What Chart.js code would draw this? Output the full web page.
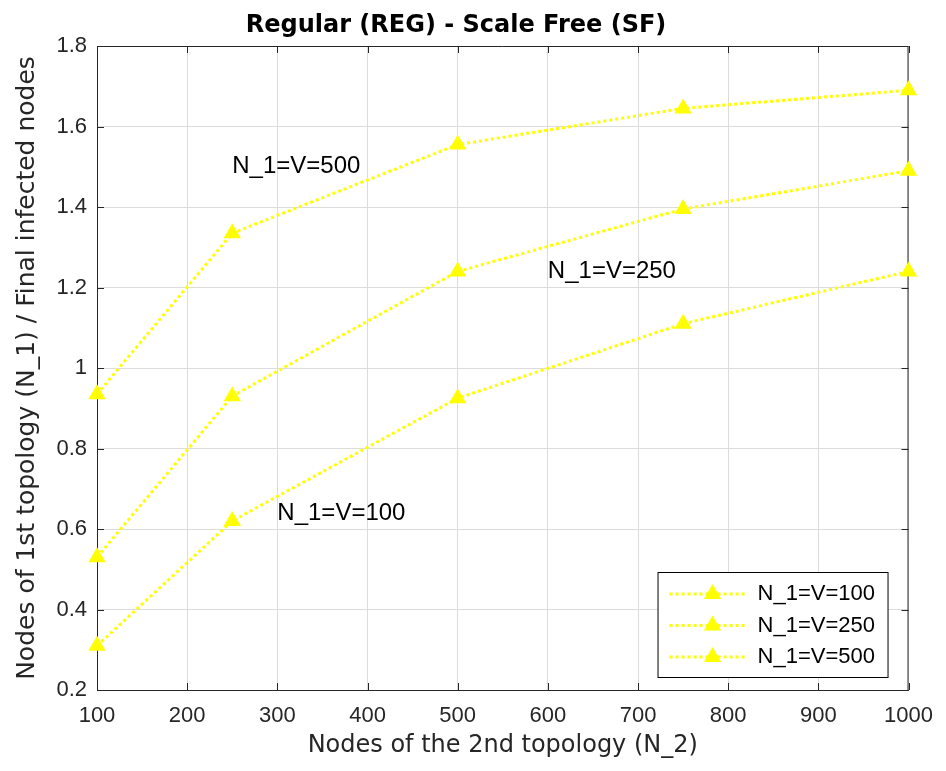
<!DOCTYPE html>
<html>
<head>
<meta charset="utf-8">
<script src="https://cdn.jsdelivr.net/npm/chart.js@4/dist/chart.umd.min.js"></script>
<style>
  html, body { margin: 0; padding: 0; background: #fff; }
</style>
</head>
<body>
<canvas id="infection-chart" width="946" height="771"></canvas>
<script>
// nodes of the second topology (x) and the three runs for N_1 = V
const nodesN2 = [100, 250, 500, 750, 1000];
const seriesLabels = ['N_1=V=100', 'N_1=V=250', 'N_1=V=500'];
const ratioV100 = [0.31, 0.62, 0.925, 1.11, 1.24];
const ratioV250 = [0.53, 0.93, 1.24, 1.395, 1.49];
const ratioV500 = [0.935, 1.335, 1.555, 1.645, 1.69];

const xTicks = [100, 200, 300, 400, 500, 600, 700, 800, 900, 1000];
const yTicks = [0.2, 0.4, 0.6, 0.8, 1, 1.2, 1.4, 1.6, 1.8];

// text labels placed inside the axes, in data units
const noteTexts = ['N_1=V=500', 'N_1=V=250', 'N_1=V=100'];
const noteX = [250, 600, 300];
const noteY = [1.5, 1.24, 0.64];

const AXIS_COLOR = '#262626';
const LINE_COLOR = '#ffff00';
const TICK_FONT = { family: '"Liberation Sans", Arial, sans-serif', size: 22 };
const LABEL_FAMILY = '"DejaVu Sans", sans-serif';

function series(label, values) {
  return {
    label: label,
    data: nodesN2.map((x, i) => ({ x: x, y: values[i] })),
    borderColor: LINE_COLOR,
    backgroundColor: LINE_COLOR,
    borderWidth: 3,
    borderDash: [3, 3],
    pointStyle: 'triangle',
    pointRadius: 7,
    pointBorderWidth: 3,
    pointBorderColor: LINE_COLOR,
    pointBackgroundColor: LINE_COLOR,
    tension: 0,
    clip: false
  };
}

const whiteBackground = {
  id: 'whiteBackground',
  beforeDraw(chart) {
    const ctx = chart.ctx;
    ctx.save();
    ctx.fillStyle = '#fff';
    ctx.fillRect(0, 0, chart.width, chart.height);
    ctx.restore();
  }
};

// closed box with inward tick marks on every side
const axesBox = {
  id: 'axesBox',
  beforeDatasetsDraw(chart) {
    const { ctx, chartArea: a, scales } = chart;
    const len = 7;
    ctx.save();
    ctx.strokeStyle = AXIS_COLOR;
    ctx.lineWidth = 1;
    ctx.beginPath();
    ctx.moveTo(a.left + 0.5, a.top + 0.5);
    ctx.lineTo(a.right - 0.5, a.top + 0.5);
    ctx.lineTo(a.right - 0.5, a.bottom);
    ctx.stroke();
    ctx.beginPath();
    scales.x.ticks.forEach(t => {
      const px = Math.round(scales.x.getPixelForValue(t.value)) + 0.5;
      ctx.moveTo(px, a.bottom);
      ctx.lineTo(px, a.bottom - len);
      ctx.moveTo(px, a.top);
      ctx.lineTo(px, a.top + len);
    });
    scales.y.ticks.forEach(t => {
      const py = Math.round(scales.y.getPixelForValue(t.value)) + 0.5;
      ctx.moveTo(a.left, py);
      ctx.lineTo(a.left + len, py);
      ctx.moveTo(a.right, py);
      ctx.lineTo(a.right - len, py);
    });
    ctx.stroke();
    ctx.restore();
  }
};

const seriesNotes = {
  id: 'seriesNotes',
  afterDatasetsDraw(chart) {
    const { ctx, scales } = chart;
    ctx.save();
    ctx.fillStyle = '#000';
    ctx.font = '24px "Liberation Sans", Arial, sans-serif';
    ctx.textAlign = 'left';
    ctx.textBaseline = 'middle';
    noteTexts.forEach((txt, i) => {
      ctx.fillText(txt, scales.x.getPixelForValue(noteX[i]), scales.y.getPixelForValue(noteY[i]));
    });
    ctx.restore();
  }
};

// legend box in the lower right corner of the axes
const boxLegend = {
  id: 'boxLegend',
  afterDraw(chart) {
    const { ctx, chartArea: a } = chart;
    const w = 230, h = 105;
    const left = a.right - 21 - w;
    const top = a.bottom - 13 - h;
    ctx.save();
    ctx.fillStyle = '#fff';
    ctx.fillRect(left, top, w, h);
    ctx.strokeStyle = '#000';
    ctx.lineWidth = 1;
    ctx.strokeRect(left + 0.5, top + 0.5, w, h);
    ctx.font = '22px "Liberation Sans", Arial, sans-serif';
    ctx.textBaseline = 'middle';
    chart.data.datasets.forEach((ds, i) => {
      const y = top + 22 + i * 31.5;
      ctx.save();
      ctx.strokeStyle = ds.borderColor;
      ctx.lineWidth = ds.borderWidth;
      ctx.setLineDash(ds.borderDash);
      ctx.beginPath();
      ctx.moveTo(left + 12, y);
      ctx.lineTo(left + 87, y);
      ctx.stroke();
      ctx.restore();
      ctx.save();
      ctx.fillStyle = ds.pointBackgroundColor;
      ctx.strokeStyle = ds.pointBorderColor;
      ctx.lineWidth = ds.pointBorderWidth;
      Chart.helpers.drawPoint(ctx, { pointStyle: 'triangle', radius: ds.pointRadius, borderWidth: ds.pointBorderWidth, rotation: 0 }, left + 55, y);
      ctx.restore();
      ctx.fillStyle = '#000';
      ctx.fillText(ds.label, left + 100, y);
    });
    ctx.restore();
  }
};

new Chart(document.getElementById('infection-chart'), {
  type: 'line',
  data: {
    datasets: [
      series(seriesLabels[0], ratioV100),
      series(seriesLabels[1], ratioV250),
      series(seriesLabels[2], ratioV500)
    ]
  },
  options: {
    responsive: false,
    animation: false,
    layout: { padding: { left: 0, top: 0, right: 34, bottom: 0 } },
    plugins: {
      legend: { display: false },
      tooltip: { enabled: false },
      title: {
        display: true,
        text: 'Regular (REG) - Scale Free (SF)',
        color: '#000',
        font: { family: LABEL_FAMILY, size: 24, weight: 'bold', lineHeight: 1.2 },
        padding: { top: 11.6, bottom: 5.6 }
      }
    },
    scales: {
      x: {
        type: 'linear',
        min: 100,
        max: 1000,
        afterBuildTicks: axis => { axis.ticks = xTicks.map(v => ({ value: v })); },
        afterFit: axis => { axis.height = 81; },
        ticks: {
          color: AXIS_COLOR,
          font: TICK_FONT,
          padding: 13,
          maxRotation: 0,
          autoSkip: false,
          callback: v => String(v)
        },
        grid: { color: '#dcdcdc', drawTicks: false },
        border: { display: true, color: AXIS_COLOR, width: 1 },
        title: {
          display: true,
          text: 'Nodes of the 2nd topology (N_2)',
          color: AXIS_COLOR,
          font: { family: LABEL_FAMILY, size: 24, lineHeight: 1.2 },
          padding: { top: 0, bottom: 10.6 }
        }
      },
      y: {
        type: 'linear',
        min: 0.2,
        max: 1.8,
        afterBuildTicks: axis => { axis.ticks = yTicks.map(v => ({ value: v })); },
        afterFit: axis => { axis.width = 97; },
        ticks: {
          color: AXIS_COLOR,
          font: TICK_FONT,
          padding: 10,
          autoSkip: false,
          callback: v => String(Math.round(v * 10) / 10)
        },
        grid: { color: '#dcdcdc', drawTicks: false },
        border: { display: true, color: AXIS_COLOR, width: 1 },
        title: {
          display: true,
          text: 'Nodes of 1st topology (N_1) / Final infected nodes',
          color: AXIS_COLOR,
          font: { family: LABEL_FAMILY, size: 25, lineHeight: 1.2 },
          padding: { top: 12, bottom: 0 }
        }
      }
    }
  },
  plugins: [whiteBackground, axesBox, seriesNotes, boxLegend]
});
</script>
</body>
</html>
